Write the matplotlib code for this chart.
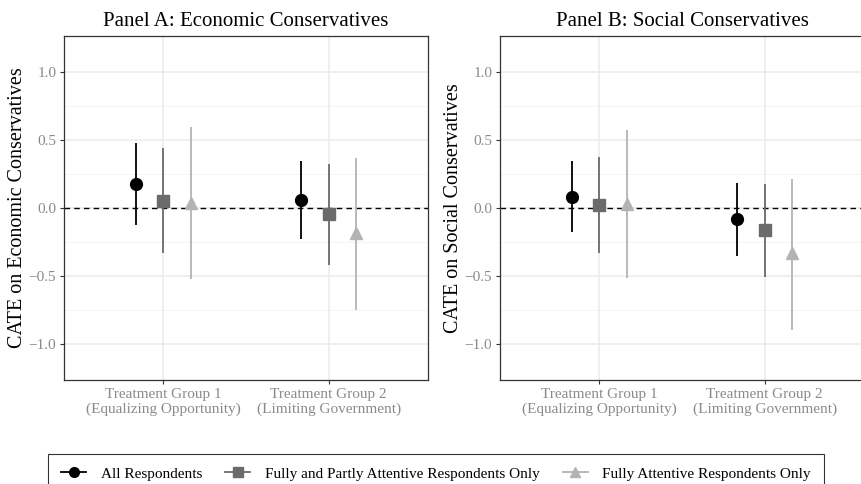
import numpy as np
import matplotlib
matplotlib.use("Agg")
import matplotlib.pyplot as plt
from matplotlib.lines import Line2D

plt.rcParams['font.family'] = ['Liberation Serif', 'DejaVu Serif']

# data
grupos = ["Treatment Group 1\n(Equalizing Opportunity)",
          "Treatment Group 2\n(Limiting Government)"]
amostras = ["All Respondents",
            "Fully and Partly Attentive Respondents Only",
            "Fully Attentive Respondents Only"]

# Panel A: economic conservatives  (estimate, lower, upper) per sample, per group
econ_est = [[0.174, 0.059], [0.054, -0.046], [0.040, -0.186]]
econ_lo = [[-0.125, -0.230], [-0.333, -0.419], [-0.524, -0.750]]
econ_hi = [[0.476, 0.348], [0.443, 0.324], [0.593, 0.365]]

# Panel B: social conservatives
soc_est = [[0.083, -0.083], [0.022, -0.162], [0.030, -0.333]]
soc_lo = [[-0.174, -0.353], [-0.333, -0.510], [-0.517, -0.897]]
soc_hi = [[0.348, 0.186], [0.372, 0.176], [0.574, 0.213]]

cores = ["#000000", "#6b6b6b", "#b3b3b3"]
marcadores = ["o", "s", "^"]
tamanhos = [8.5, 8.0, 9.0]
desloc = [-0.167, 0.0, 0.167]

fig = plt.figure(figsize=(8.61, 4.84), dpi=100)

paineis = [
    ("Panel A: Economic Conservatives", "CATE on Economic Conservatives",
     econ_est, econ_lo, econ_hi, 64),
    ("Panel B: Social Conservatives", "CATE on Social Conservatives",
     soc_est, soc_lo, soc_hi, 500),
]

for titulo, ylab, est, lo, hi, x0 in paineis:
    ax = fig.add_axes([x0 / 861, 1 - 380 / 484, 364 / 861, 344 / 484])
    x = np.arange(1, len(grupos) + 1)
    ax.set_xlim(0.4, 2.6)
    ax.set_ylim(-1.265, 1.265)

    # grade estilo theme_bw
    for yy in [-1.0, -0.5, 0.0, 0.5, 1.0]:
        ax.axhline(yy, color="#ebebeb", lw=1.1, zorder=0)
    for yy in [-0.75, -0.25, 0.25, 0.75]:
        ax.axhline(yy, color="#f2f2f2", lw=0.6, zorder=0)
    for xx in x:
        ax.axvline(xx, color="#ebebeb", lw=1.1, zorder=0)

    ax.axhline(0, color="black", ls=(0, (4, 3)), lw=1.0, zorder=1)

    for i in range(len(amostras)):
        xs = x + desloc[i]
        ax.vlines(xs, lo[i], hi[i], color=cores[i], lw=1.3, zorder=2)
        ax.plot(xs, est[i], ls="none", marker=marcadores[i], color=cores[i],
                ms=tamanhos[i], zorder=3)

    ax.set_xticks(x)
    ax.set_xticklabels(grupos, fontsize=11, color="#8a8a8a", linespacing=1.2)
    ax.set_yticks([-1.0, -0.5, 0.0, 0.5, 1.0])
    ax.set_yticklabels(["\u22121.0", "\u22120.5", "0.0", "0.5", "1.0"],
                       fontsize=11, color="#8a8a8a")
    ax.tick_params(length=3, width=0.8, color="#333333", pad=2.5)
    for s in ax.spines.values():
        s.set_color("#333333")
        s.set_linewidth(0.9)
    ax.set_title(titulo, fontsize=15, pad=7)
    ax.set_ylabel(ylab, fontsize=14.5, labelpad=1)

handles = [Line2D([0], [0], color=cores[i], marker=marcadores[i],
                  ms=tamanhos[i] - 1.5, lw=1.3) for i in range(3)]
leg = fig.legend(handles, amostras, loc="upper center", ncol=3,
                 bbox_to_anchor=(436 / 861, 1 - 454 / 484), frameon=True,
                 fancybox=False, edgecolor="black", fontsize=11,
                 handlelength=1.65, handletextpad=0.95, columnspacing=1.5,
                 borderpad=0.85, borderaxespad=0)
leg.get_frame().set_linewidth(0.8)

fig.savefig("out.png", dpi=100)
